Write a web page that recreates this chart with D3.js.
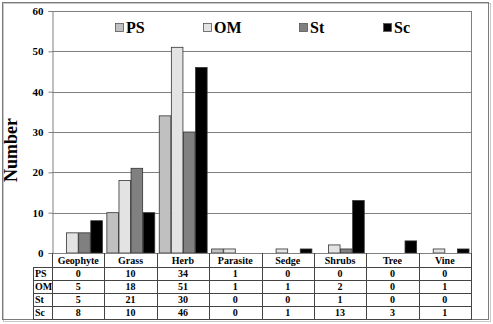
<!DOCTYPE html>
<html><head><meta charset="utf-8">
<script src="https://cdn.jsdelivr.net/npm/d3@7"></script>
<style>body{margin:0;background:#fff}svg{display:block}text{font-family:"Liberation Serif","Times New Roman",serif;font-weight:bold;fill:#000}</style>
</head><body>
<script>
const categories = ["Geophyte","Grass","Herb","Parasite","Sedge","Shrubs","Tree","Vine"];
const seriesNames = ["PS","OM","St","Sc"];
const PS = [0,10,34,1,0,0,0,0];
const OM = [5,18,51,1,1,2,0,1];
const St = [5,21,30,0,0,1,0,0];
const Sc = [8,10,46,0,1,13,3,1];
const yTicks = [0,10,20,30,40,50,60];
const colors = ["#c0c0c0","#e3e3e3","#808080","#000000"];
const seriesValues = [PS,OM,St,Sc];

const W = 493, H = 324;
const svg = d3.select("body").append("svg").attr("width",W).attr("height",H);

// outer frame
svg.append("rect").attr("x",3.5).attr("y",3.5).attr("width",487).attr("height",318).attr("fill","none").attr("stroke","#c8c8c8").attr("stroke-width",1);
svg.append("rect").attr("x",2.5).attr("y",2.5).attr("width",486).attr("height",317).attr("fill","none").attr("stroke","#7a7a7a").attr("stroke-width",1);

const pLeft = 52, pRight = 471, pTop = 11, pBottom = 253;
const x = d3.scaleBand().domain(categories).range([pLeft,pRight]).paddingInner(0).paddingOuter(0);
const xs = d3.scaleBand().domain(seriesNames).range([0,x.bandwidth()]).paddingOuter(0.165).paddingInner(0);
const y = d3.scaleLinear().domain([0,60]).range([pBottom,pTop]);

// gridlines
svg.append("g").selectAll("line").data(yTicks.filter(d=>d>0)).join("line")
  .attr("x1",pLeft).attr("x2",pRight).attr("y1",d=>Math.round(y(d))+0.5).attr("y2",d=>Math.round(y(d))+0.5)
  .attr("stroke","#808080").attr("stroke-width",1);
// right border
svg.append("line").attr("x1",pRight+0.5).attr("x2",pRight+0.5).attr("y1",pTop).attr("y2",pBottom).attr("stroke","#808080");

// y axis
const yAxis = svg.append("g").attr("transform",`translate(${pLeft+0.5},0)`)
  .call(d3.axisLeft(y).tickValues(yTicks).tickSize(4).tickPadding(5));
yAxis.select(".domain").attr("stroke","#808080");
yAxis.selectAll(".tick line").attr("stroke","#808080");
yAxis.selectAll(".tick text").style("font-size","11px").style("font-family","'Liberation Serif',serif").style("font-weight","bold");

// bars
const g = svg.append("g");
categories.forEach((c,i)=>{
  seriesNames.forEach((s,j)=>{
    const v = seriesValues[j][i];
    if(v<=0) return;
    g.append("rect")
      .attr("x",x(c)+xs(s)+0.5).attr("width",xs.bandwidth()-0.5)
      .attr("y",y(v)).attr("height",y(0)-y(v))
      .attr("fill",colors[j]).attr("stroke","#333").attr("stroke-width",0.8);
  });
});

// x axis line
svg.append("line").attr("x1",pLeft).attr("x2",pRight).attr("y1",pBottom+0.5).attr("y2",pBottom+0.5).attr("stroke","#808080");

// y label
svg.append("text").attr("transform","translate(17,150) rotate(-90)").attr("text-anchor","middle")
  .style("font-size","18px").text("Number");

// legend
const legendX = [115,203,299,383];
seriesNames.forEach((s,j)=>{
  svg.append("rect").attr("x",legendX[j]+0.5).attr("y",23.5).attr("width",8).attr("height",8)
    .attr("fill",colors[j]).attr("stroke","#555").attr("stroke-width",0.8);
  svg.append("text").attr("x",legendX[j]+11).attr("y",32.5).style("font-size","16px").text(s);
});

// data table
const rowTop = [253,266.5,279.7,292.9,306.1,319.3];
const tableLeft = 33;
const tg = svg.append("g");
rowTop.slice(1).forEach((yy)=>{
  tg.append("line").attr("x1",tableLeft).attr("x2",pRight).attr("y1",Math.round(yy)+0.5).attr("y2",Math.round(yy)+0.5).attr("stroke","#444");
});
tg.append("line").attr("x1",tableLeft+0.5).attr("x2",tableLeft+0.5).attr("y1",Math.round(rowTop[1])).attr("y2",Math.round(rowTop[5])+1).attr("stroke","#444");
x.domain().forEach(c=>{
  tg.append("line").attr("x1",Math.round(x(c))+0.5).attr("x2",Math.round(x(c))+0.5).attr("y1",pBottom).attr("y2",Math.round(rowTop[5])+1).attr("stroke","#444");
});
tg.append("line").attr("x1",pRight+0.5).attr("x2",pRight+0.5).attr("y1",pBottom).attr("y2",Math.round(rowTop[5])+1).attr("stroke","#444");
categories.forEach(c=>{
  tg.append("text").attr("x",x(c)+x.bandwidth()/2).attr("y",rowTop[0]+10.5).attr("text-anchor","middle").style("font-size","10px").text(c);
});
seriesNames.forEach((s,j)=>{
  const yy = rowTop[j+1]+10;
  tg.append("text").attr("x",tableLeft+2).attr("y",yy).style("font-size","10px").text(s);
  categories.forEach((c,i)=>{
    tg.append("text").attr("x",x(c)+x.bandwidth()/2).attr("y",yy).attr("text-anchor","middle").style("font-size","10px").text(seriesValues[j][i]);
  });
});
</script>
</body></html>
